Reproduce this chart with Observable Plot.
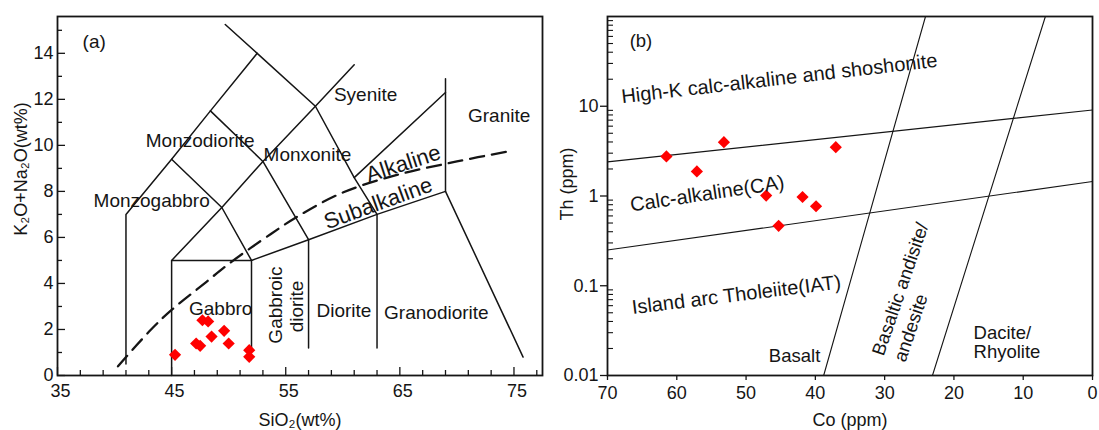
<!DOCTYPE html>
<html><head><meta charset="utf-8">
<script src="https://cdn.jsdelivr.net/npm/d3@7"></script>
<script src="https://cdn.jsdelivr.net/npm/@observablehq/plot@0.6"></script>
<style>
body{margin:0;background:#fff;}
#wrap{display:flex;width:1099px;height:430px;overflow:hidden;}
</style></head><body><div id="wrap"></div>
<script>
// ---------- Panel (a): TAS diagram ----------
const tasSiO2 = [45.3, 47.7, 48.2, 47.15, 47.5, 48.5, 49.6, 50.0, 51.8, 51.8];
const tasAlk  = [0.9, 2.4, 2.35, 1.39, 1.29, 1.69, 1.94, 1.39, 1.1, 0.81];

const tasBoundaries = [
  [[41,0.5],[41,7],[45,9.4],[48.4,11.5],[52.5,14]],
  [[49.7,15.25],[52.5,14],[57.6,11.7],[61,8.6],[63,7]],
  [[45,0],[45,5],[49.4,7.3],[53,9.3],[57.6,11.7],[61,13.5]],
  [[45,9.4],[49.4,7.3],[52,5]],
  [[48.4,11.5],[53,9.3],[57,5.9]],
  [[45,5],[52,5]],
  [[52,1.2],[52,5],[57,5.9],[63,7],[69,8]],
  [[57,1.2],[57,5.9]],
  [[63,1.2],[63,7]],
  [[61,8.6],[69,12.3]],
  [[69,12.9],[69,8],[75.8,0.8]]
];
const alkCurveSiO2 = [40.3, 43.2, 45, 48, 50, 53.7, 56, 60, 65, 70, 74.6];
const alkCurveAlk  = [0.4, 2.0, 2.85, 4.05, 4.85, 6.15, 6.9, 7.95, 8.75, 9.3, 9.75];

const panelTagA = ["(a)"];
const tagXA = [37.2], tagYA = [14.5];
const fieldNamesA = ["Syenite","Granite","Monzodiorite","Monxonite","Monzogabbro","Gabbro","Gabbroic","diorite","Diorite","Granodiorite"];
const fieldXA = [62.0, 73.7, 47.5, 56.9, 43.25, 49.3, 54.1, 55.95, 60.1, 68.2];
const fieldYA = [12.2, 11.3, 10.2, 9.6, 7.57, 2.88, 3.06, 3.0, 2.8, 2.73];
const fieldRotA = [0, 0, 0, 0, 0, 0, -90, -90, 0, 0];
const seriesNamesA = ["Alkaline","Subalkaline"];
const seriesXA = [65.3, 63.1];
const seriesYA = [9.2, 7.48];
const seriesRotA = [-18, -20];

const xTicksA = [35, 45, 55, 65, 75];
const xMinorA = [37, 39, 41, 43, 47, 49, 51, 53, 57, 59, 61, 63, 67, 69, 71, 73, 77];
const yTicksA = [0, 2, 4, 6, 8, 10, 12, 14];
const yMinorA = [1, 3, 5, 7, 9, 11, 13, 15];

// ---------- Panel (b): Th vs Co ----------
const coVals = [61.5, 57.1, 53.2, 47.1, 45.3, 41.85, 39.9, 37.05];
const thVals = [2.76, 1.88, 3.98, 1.01, 0.465, 0.975, 0.769, 3.5];

const thcoBoundaries = [
  [[70,2.4],[0,9.1]],
  [[70,0.25],[0,1.45]],
  [[38.8,0.01],[24.1,100]],
  [[23.1,0.01],[6.8,100]]
];
const panelTagB = ["(b)"];
const tagXB = [66.8], tagYB = [53.8];
const seriesNamesB = ["High-K calc-alkaline and shoshonite","Calc-alkaline(CA)","Island arc Tholeiite(IAT)"];
const seriesXB = [45.2, 55.6, 51.4];
const seriesYB = [20.3, 1.06, 0.079];
const seriesRotB = [-6.6, -8.5, -7];
const rockNamesB = ["Basalt","Basaltic andisite/","andesite"];
const rockXB = [43, 27.7, 26.2];
const rockYB = [0.0165, 0.0918, 0.0339];
const rockRotB = [0, -71, -71];
const leftNamesB = ["Dacite/","Rhyolite"];
const leftXB = [17.17, 17.17];
const leftYB = [0.030, 0.0182];

const xTicksB = [70, 60, 50, 40, 30, 20, 10, 0];
const yTicksB = [0.01, 0.1, 1, 10];
const yTickLabelsB = ["0.01", "0.1", "1", "10"];
const yMinorB = [0.01, 0.1, 1, 10].flatMap(d => [2,3,4,5,6,7,8,9].map(k => d * k));

// ---------- rendering ----------
const FONT = '"Liberation Sans", Arial, Helvetica, sans-serif';
const INK = "#151515";
const H = 430, MT = 16, MB = 55;
const plotH = H - MT - MB;

function segs(list) {
  return list.flatMap((pts, i) => pts.map(([x, y]) => ({x, y, i})));
}

const WA = 549, MLA = 57, MRA = 7, plotWA = WA - MLA - MRA;
const plotA = Plot.plot({
  width: WA, height: H, marginLeft: MLA, marginRight: MRA, marginTop: MT, marginBottom: MB,
  style: {fontFamily: FONT, fontSize: "18px", color: INK, background: "white", overflow: "visible"},
  x: {domain: [35, 77.5]},
  y: {domain: [0, 15.6]},
  marks: [
    Plot.line(segs(tasBoundaries), {x: "x", y: "y", z: "i", stroke: INK, strokeWidth: 1.5}),
    Plot.line(alkCurveSiO2, {x: alkCurveSiO2, y: alkCurveAlk, stroke: INK, strokeWidth: 2.3, strokeDasharray: "14,8", curve: "catmull-rom"}),
    Plot.dot(tasSiO2, {x: tasSiO2, y: tasAlk, symbol: "diamond2", r: 5.5, fill: "#ff0000", stroke: "none"}),
    Plot.text(fieldNamesA, {x: fieldXA, y: fieldYA, text: fieldNamesA, rotate: fieldRotA, fontSize: 19, fill: INK, textAnchor: "middle"}),
    Plot.text(seriesNamesA, {x: seriesXA, y: seriesYA, text: seriesNamesA, rotate: seriesRotA, fontSize: 22, fill: INK, textAnchor: "middle"}),
    Plot.text(panelTagA, {x: tagXA, y: tagYA, text: panelTagA, fontSize: 19, fill: INK, textAnchor: "start"}),
    Plot.ruleX(xTicksA, {insetTop: plotH - 8, stroke: INK, strokeWidth: 1.3}),
    Plot.ruleX(xMinorA, {insetTop: plotH - 5, stroke: INK, strokeWidth: 1.3}),
    Plot.ruleY(yTicksA, {insetRight: plotWA - 8, stroke: INK, strokeWidth: 1.3}),
    Plot.ruleY(yMinorA, {insetRight: plotWA - 5, stroke: INK, strokeWidth: 1.3}),
    Plot.axisX({ticks: xTicksA, tickSize: 0, tickPadding: 9, dx: 3, label: null, fontSize: 18}),
    Plot.axisY({ticks: yTicksA, tickSize: 0, tickPadding: 4, label: null, fontSize: 18}),
    Plot.text(["SiO₂(wt%)"], {frameAnchor: "bottom", textAnchor: "middle", lineAnchor: "middle", dy: 45, fontSize: 18, fill: INK}),
    Plot.text(["K₂O+Na₂O(wt%)"], {frameAnchor: "left", textAnchor: "middle", lineAnchor: "middle", dx: -36, dy: -27, rotate: -90, fontSize: 18, fill: INK}),
    Plot.frame({stroke: INK, strokeWidth: 1.8})
  ]
});

const WB = 550, MLB = 58, MRB = 7, plotWB = WB - MLB - MRB;
const plotB = Plot.plot({
  width: WB, height: H, marginLeft: MLB, marginRight: MRB, marginTop: MT, marginBottom: MB,
  style: {fontFamily: FONT, fontSize: "18px", color: INK, background: "white", overflow: "visible"},
  x: {domain: [70, 0]},
  y: {type: "log", domain: [0.01, 100]},
  marks: [
    Plot.line(segs(thcoBoundaries), {x: "x", y: "y", z: "i", stroke: INK, strokeWidth: 1.1}),
    Plot.dot(coVals, {x: coVals, y: thVals, symbol: "diamond2", r: 5.5, fill: "#ff0000", stroke: "none"}),
    Plot.text(panelTagB, {x: tagXB, y: tagYB, text: panelTagB, textAnchor: "start", fontSize: 18.5, fill: INK}),
    Plot.text(seriesNamesB, {x: seriesXB, y: seriesYB, text: seriesNamesB, rotate: seriesRotB, textAnchor: "middle", fontSize: 20, fill: INK}),
    Plot.text(rockNamesB, {x: rockXB, y: rockYB, text: rockNamesB, rotate: rockRotB, textAnchor: "middle", fontSize: 18.5, fill: INK}),
    Plot.text(leftNamesB, {x: leftXB, y: leftYB, text: leftNamesB, textAnchor: "start", fontSize: 18.5, fill: INK}),
    Plot.ruleY(yMinorB, {insetRight: plotWB - 6, stroke: INK, strokeWidth: 1.1}),
    Plot.axisX({ticks: xTicksB, tickSize: 5, tickPadding: 6, label: null, fontSize: 18, strokeWidth: 1.3}),
    Plot.axisY({ticks: yTicksB, tickSize: 7, tickPadding: 2, label: null, fontSize: 18, strokeWidth: 1.3,
      tickFormat: (d) => yTickLabelsB[yTicksB.indexOf(d)]}),
    Plot.text(["Co (ppm)"], {frameAnchor: "bottom", textAnchor: "middle", lineAnchor: "middle", dy: 45, fontSize: 18, fill: INK}),
    Plot.text(["Th (ppm)"], {frameAnchor: "left", textAnchor: "middle", lineAnchor: "middle", dx: -40, dy: -12, rotate: -90, fontSize: 18, fill: INK}),
    Plot.frame({stroke: INK, strokeWidth: 1.8})
  ]
});

const wrap = document.getElementById("wrap");
wrap.append(plotA, plotB);
</script></body></html>
